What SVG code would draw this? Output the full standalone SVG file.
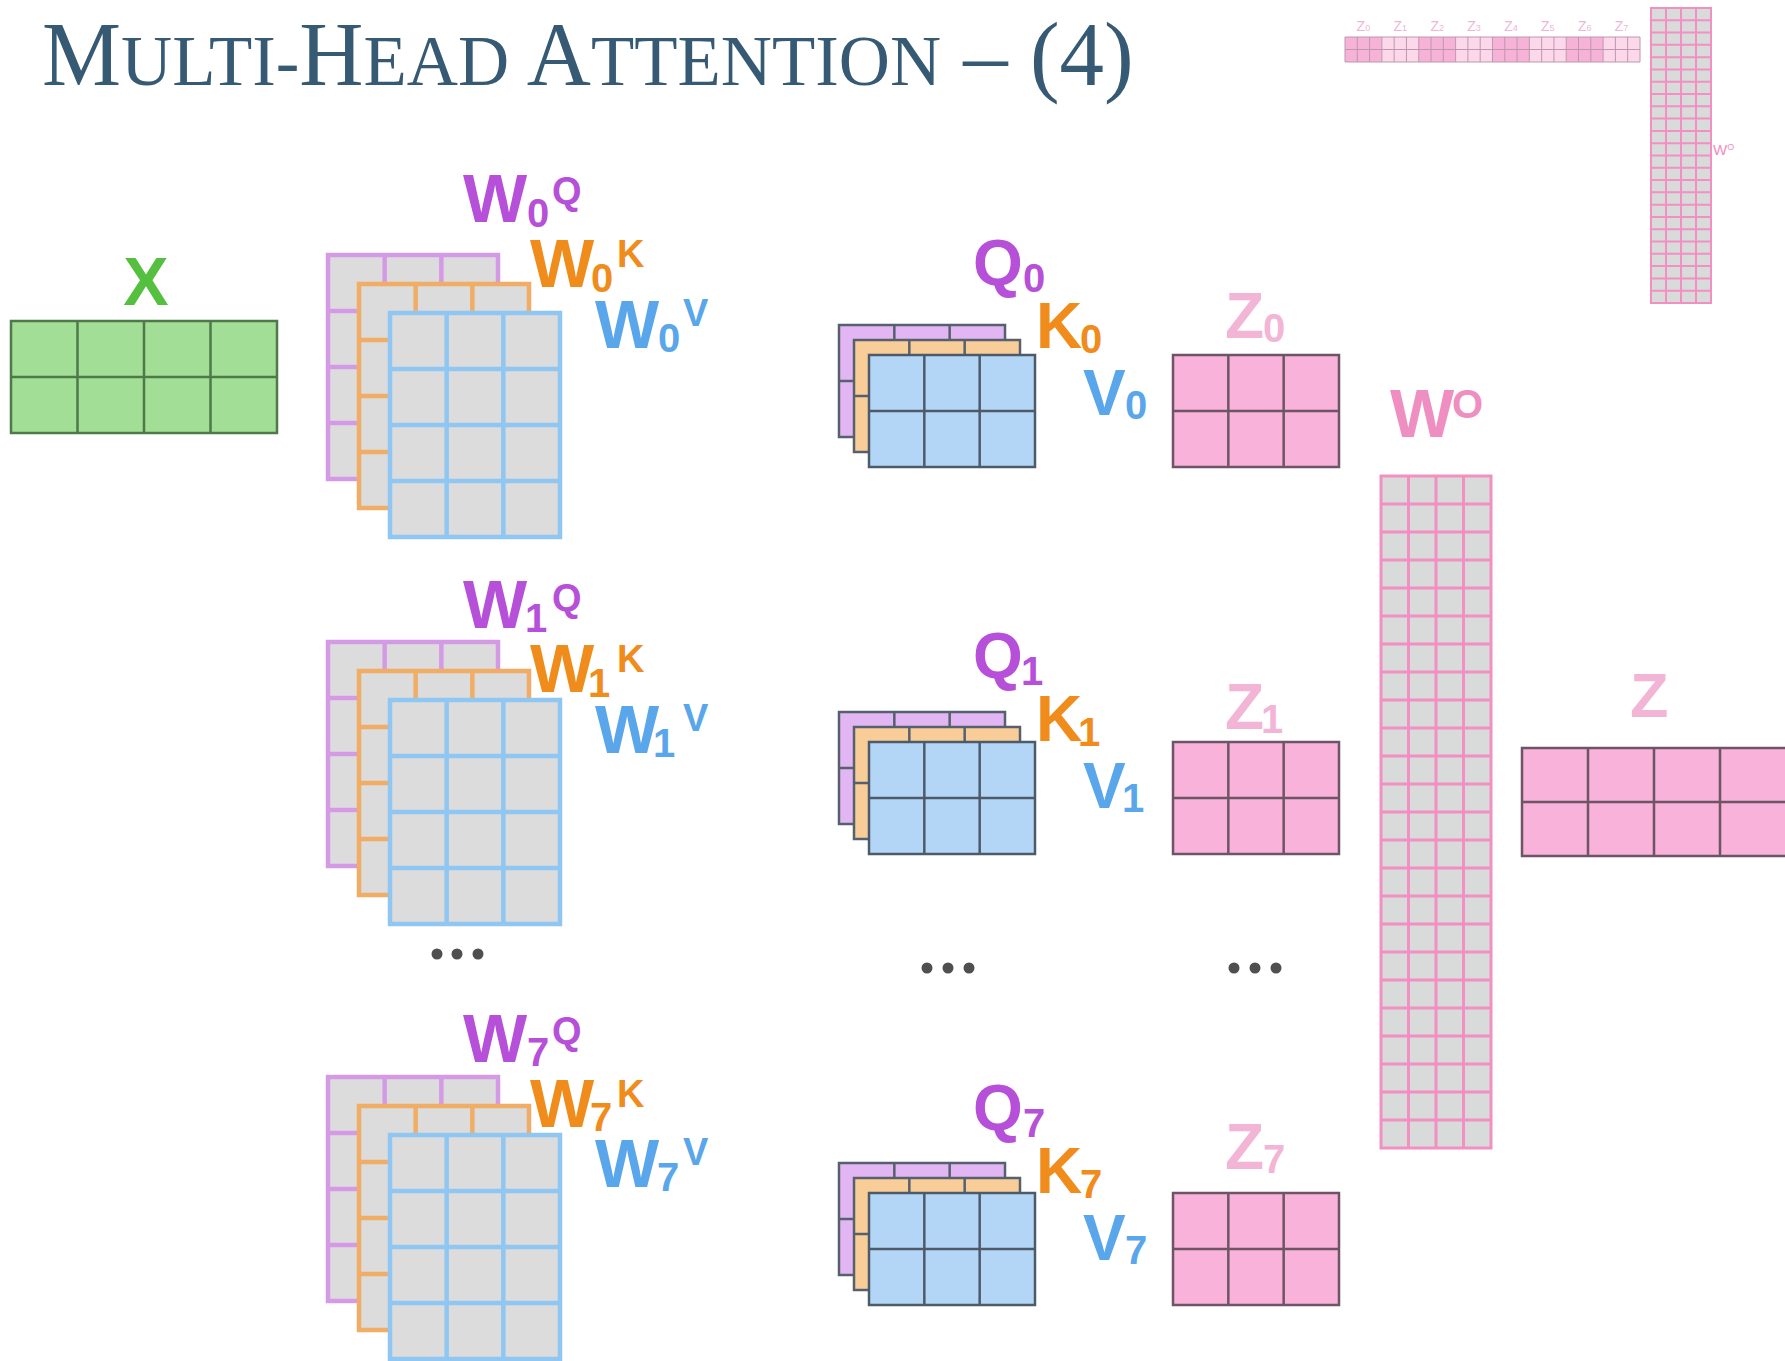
<svg xmlns="http://www.w3.org/2000/svg" width="1785" height="1361" viewBox="0 0 1785 1361">
<style>
.lbl{font-family:"Liberation Sans",Arial,sans-serif;font-weight:bold}
.title{font-family:"Liberation Serif","Times New Roman",serif;fill:#375a74}
.pu{fill:#b650d8}.or{fill:#f08c1c}.bl{fill:#5aa6ea}.gr{fill:#55c040}.pk{fill:#f3b5d5}.pk2{fill:#ef8ec0}
.wp{fill:#dcdcdc;stroke:#d59ae6;stroke-width:4.5}
.wo{fill:#dcdcdc;stroke:#f0ad66;stroke-width:4.5}
.wb{fill:#dcdcdc;stroke:#90c6f2;stroke-width:4.5}
.qp{fill:#e2b6f3;stroke:#56606e;stroke-width:2.5}
.qo{fill:#f9cd98;stroke:#56606e;stroke-width:2.5}
.qb{fill:#b3d6f6;stroke:#4d5a6a;stroke-width:2.5}
.zm{fill:#f9b2d9;stroke:#6d5566;stroke-width:2.5}
.dot{fill:#4f4f4f}
.thin{font-family:"Liberation Sans",Arial,sans-serif;fill:#f0b5d3}
</style>
<defs>
<g id="wgrid"><rect width="170" height="224"/><path fill="none" d="M56.67 0V224M113.33 0V224M0 56H170M0 112H170M0 168H170"/></g>
<g id="qgrid"><rect width="166" height="112"/><path fill="none" d="M55.33 0V112M110.67 0V112M0 56H166"/></g>
</defs>

<g id="title">
<text class="title" transform="translate(42 85) scale(0.977 1)" font-size="91"><tspan>M</tspan><tspan font-size="72.5">ULTI-</tspan><tspan>H</tspan><tspan font-size="72.5">EAD </tspan><tspan>A</tspan><tspan font-size="72.5">TTENTION</tspan><tspan> – (4)</tspan></text>
</g>

<g id="x-matrix">
<text class="lbl gr" x="146" y="305" font-size="68" text-anchor="middle">X</text>
<rect x="11" y="321" width="266" height="112" fill="#a3de97" stroke="#4e7a4a" stroke-width="2.5"/>
<path d="M77.5 321V433M144 321V433M210.5 321V433M11 377H277" fill="none" stroke="#4e7a4a" stroke-width="2.5"/>
</g>

<g id="w-head0">
<use href="#wgrid" class="wp" x="328" y="255"/>
<use href="#wgrid" class="wo" x="359" y="284"/>
<use href="#wgrid" class="wb" x="390" y="313"/>
<text class="lbl pu"><tspan x="463" y="222" font-size="68">W</tspan><tspan x="527" y="227" font-size="40">0</tspan><tspan x="552" y="204" font-size="38">Q</tspan></text>
<text class="lbl or"><tspan x="530" y="287" font-size="68">W</tspan><tspan x="591" y="292" font-size="40">0</tspan><tspan x="617" y="267" font-size="38">K</tspan></text>
<text class="lbl bl"><tspan x="595" y="348" font-size="68">W</tspan><tspan x="658" y="352" font-size="40">0</tspan><tspan x="683" y="326" font-size="38">V</tspan></text>
</g>

<g id="w-head1">
<use href="#wgrid" class="wp" x="328" y="642"/>
<use href="#wgrid" class="wo" x="359" y="671"/>
<use href="#wgrid" class="wb" x="390" y="700"/>
<text class="lbl pu"><tspan x="463" y="628" font-size="68">W</tspan><tspan x="525" y="632" font-size="40">1</tspan><tspan x="552" y="611" font-size="38">Q</tspan></text>
<text class="lbl or"><tspan x="530" y="692" font-size="68">W</tspan><tspan x="588" y="697" font-size="40">1</tspan><tspan x="617" y="672" font-size="38">K</tspan></text>
<text class="lbl bl"><tspan x="595" y="753" font-size="68">W</tspan><tspan x="653" y="757" font-size="40">1</tspan><tspan x="683" y="731" font-size="38">V</tspan></text>
<circle class="dot" cx="437" cy="954" r="5.5"/><circle class="dot" cx="457" cy="954" r="5.5"/><circle class="dot" cx="478" cy="954" r="5.5"/>
</g>

<g id="w-head7">
<use href="#wgrid" class="wp" x="328" y="1077"/>
<use href="#wgrid" class="wo" x="359" y="1106"/>
<use href="#wgrid" class="wb" x="390" y="1135"/>
<text class="lbl pu"><tspan x="463" y="1062" font-size="68">W</tspan><tspan x="527" y="1066" font-size="40">7</tspan><tspan x="552" y="1044" font-size="38">Q</tspan></text>
<text class="lbl or"><tspan x="530" y="1127" font-size="68">W</tspan><tspan x="590" y="1131" font-size="40">7</tspan><tspan x="617" y="1107" font-size="38">K</tspan></text>
<text class="lbl bl"><tspan x="595" y="1187" font-size="68">W</tspan><tspan x="657" y="1191" font-size="40">7</tspan><tspan x="683" y="1165" font-size="38">V</tspan></text>
</g>

<g id="qkv-head0">
<use href="#qgrid" class="qp" x="839" y="325"/>
<use href="#qgrid" class="qo" x="854" y="340"/>
<use href="#qgrid" class="qb" x="869" y="355"/>
<text class="lbl pu"><tspan x="973" y="285" font-size="64">Q</tspan><tspan x="1023" y="292" font-size="40">0</tspan></text>
<text class="lbl or"><tspan x="1036" y="348" font-size="64">K</tspan><tspan x="1080" y="353" font-size="40">0</tspan></text>
<text class="lbl bl"><tspan x="1083" y="415" font-size="64">V</tspan><tspan x="1125" y="419" font-size="40">0</tspan></text>
</g>

<g id="qkv-head1">
<use href="#qgrid" class="qp" x="839" y="712"/>
<use href="#qgrid" class="qo" x="854" y="727"/>
<use href="#qgrid" class="qb" x="869" y="742"/>
<text class="lbl pu"><tspan x="973" y="678" font-size="64">Q</tspan><tspan x="1021" y="685" font-size="40">1</tspan></text>
<text class="lbl or"><tspan x="1036" y="741" font-size="64">K</tspan><tspan x="1078" y="746" font-size="40">1</tspan></text>
<text class="lbl bl"><tspan x="1083" y="808" font-size="64">V</tspan><tspan x="1122" y="812" font-size="40">1</tspan></text>
<circle class="dot" cx="927" cy="968" r="5.5"/><circle class="dot" cx="948" cy="968" r="5.5"/><circle class="dot" cx="969" cy="968" r="5.5"/>
</g>

<g id="qkv-head7">
<use href="#qgrid" class="qp" x="839" y="1163"/>
<use href="#qgrid" class="qo" x="854" y="1178"/>
<use href="#qgrid" class="qb" x="869" y="1193"/>
<text class="lbl pu"><tspan x="973" y="1130" font-size="64">Q</tspan><tspan x="1023" y="1137" font-size="40">7</tspan></text>
<text class="lbl or"><tspan x="1036" y="1193" font-size="64">K</tspan><tspan x="1080" y="1198" font-size="40">7</tspan></text>
<text class="lbl bl"><tspan x="1083" y="1260" font-size="64">V</tspan><tspan x="1125" y="1264" font-size="40">7</tspan></text>
</g>

<g id="z0">
<use href="#qgrid" class="zm" x="1173" y="355"/>
<text class="lbl pk"><tspan x="1225" y="338" font-size="64">Z</tspan><tspan x="1263" y="342" font-size="40">0</tspan></text>
</g>
<g id="z1">
<use href="#qgrid" class="zm" x="1173" y="742"/>
<text class="lbl pk"><tspan x="1225" y="729" font-size="64">Z</tspan><tspan x="1261" y="733" font-size="40">1</tspan></text>
<circle class="dot" cx="1234" cy="968" r="5.5"/><circle class="dot" cx="1255" cy="968" r="5.5"/><circle class="dot" cx="1276" cy="968" r="5.5"/>
</g>
<g id="z7">
<use href="#qgrid" class="zm" x="1173" y="1193"/>
<text class="lbl pk"><tspan x="1225" y="1169" font-size="64">Z</tspan><tspan x="1263" y="1173" font-size="40">7</tspan></text>
</g>

<g id="wo">
<text class="lbl pk2"><tspan x="1390" y="437" font-size="68">W</tspan><tspan x="1452" y="418" font-size="40">O</tspan></text>
<rect x="1381" y="476" width="110" height="672" fill="#d9dbdb" stroke="#f290c2" stroke-width="3"/>
<path fill="none" stroke="#f290c2" stroke-width="3" d="M1408.5 476V1148M1436 476V1148M1463.5 476V1148M1381 504h110m-110 28h110m-110 28h110m-110 28h110m-110 28h110m-110 28h110m-110 28h110m-110 28h110m-110 28h110m-110 28h110m-110 28h110m-110 28h110m-110 28h110m-110 28h110m-110 28h110m-110 28h110m-110 28h110m-110 28h110m-110 28h110m-110 28h110m-110 28h110m-110 28h110m-110 28h110"/>
</g>

<g id="z-out">
<text class="lbl pk" x="1630" y="717" font-size="63">Z</text>
<rect x="1522" y="748" width="266" height="108" fill="#f9b2d9" stroke="#6d5566" stroke-width="2.5"/>
<path fill="none" stroke="#6d5566" stroke-width="2.5" d="M1588 748V856M1654 748V856M1720 748V856M1522 802H1788"/>
</g>

<g id="thumb-z">
<rect x="1345" y="37" width="36.875" height="25" fill="#f6b2d7"/>
<rect x="1381.875" y="37" width="36.875" height="25" fill="#fbd8ea"/>
<rect x="1418.75" y="37" width="36.875" height="25" fill="#f6b2d7"/>
<rect x="1455.625" y="37" width="36.875" height="25" fill="#fbd8ea"/>
<rect x="1492.5" y="37" width="36.875" height="25" fill="#f6b2d7"/>
<rect x="1529.375" y="37" width="36.875" height="25" fill="#fbd8ea"/>
<rect x="1566.25" y="37" width="36.875" height="25" fill="#f6b2d7"/>
<rect x="1603.125" y="37" width="36.875" height="25" fill="#fbd8ea"/>
<path fill="none" stroke="#bf97ae" stroke-width="1" d="M1345 37h295v25h-295zM1345 49.5h295M1357.29 37v25m12.29 -25v25m12.29 -25v25m12.29 -25v25m12.29 -25v25m12.29 -25v25m12.29 -25v25m12.29 -25v25m12.29 -25v25m12.29 -25v25m12.29 -25v25m12.29 -25v25m12.29 -25v25m12.29 -25v25m12.29 -25v25m12.29 -25v25m12.29 -25v25m12.29 -25v25m12.29 -25v25m12.29 -25v25m12.29 -25v25m12.29 -25v25m12.29 -25v25"/>
<g class="thin" font-size="14" text-anchor="middle">
<text x="1363.4" y="31">Z<tspan font-size="9">0</tspan></text>
<text x="1400.3" y="31">Z<tspan font-size="9">1</tspan></text>
<text x="1437.2" y="31">Z<tspan font-size="9">2</tspan></text>
<text x="1474.1" y="31">Z<tspan font-size="9">3</tspan></text>
<text x="1511" y="31">Z<tspan font-size="9">4</tspan></text>
<text x="1547.8" y="31">Z<tspan font-size="9">5</tspan></text>
<text x="1584.7" y="31">Z<tspan font-size="9">6</tspan></text>
<text x="1621.6" y="31">Z<tspan font-size="9">7</tspan></text>
</g>
</g>

<g id="thumb-wo">
<rect x="1651" y="8" width="60" height="295" fill="#d9dbdb" stroke="#f290c2" stroke-width="2"/>
<path fill="none" stroke="#f290c2" stroke-width="2" d="M1666 8V303M1681 8V303M1696 8V303M1651 20.29h60m-60 12.29h60m-60 12.29h60m-60 12.29h60m-60 12.29h60m-60 12.29h60m-60 12.29h60m-60 12.29h60m-60 12.29h60m-60 12.29h60m-60 12.29h60m-60 12.29h60m-60 12.29h60m-60 12.29h60m-60 12.29h60m-60 12.29h60m-60 12.29h60m-60 12.29h60m-60 12.29h60m-60 12.29h60m-60 12.29h60m-60 12.29h60m-60 12.29h60"/>
<text class="thin" x="1713" y="155" font-size="15" style="fill:#f08ec0">W<tspan font-size="9" dy="-5">O</tspan></text>
</g>

<g id="connectors"/>
</svg>
